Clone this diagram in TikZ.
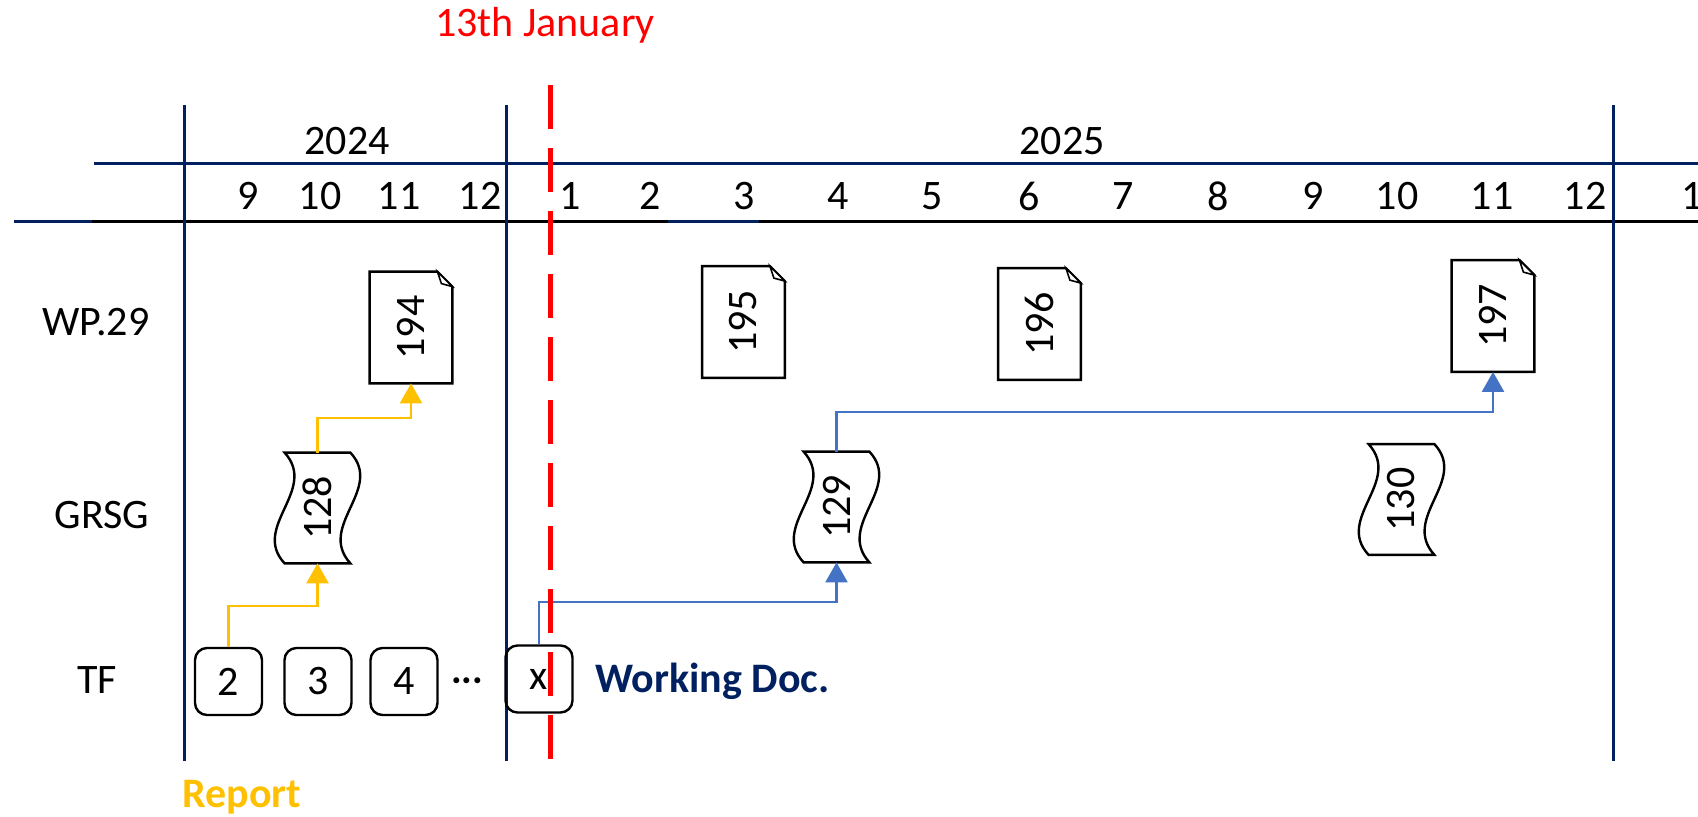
\documentclass[tikz,border=0pt]{standalone}
\usepackage{fontspec}
\setmainfont{Carlito}
\usetikzlibrary{arrows.meta,calc}
\definecolor{navy}{HTML}{002060}
\definecolor{gold}{HTML}{FFC000}
\definecolor{linkblue}{HTML}{4472C4}
\newcommand\wpdocnode[3]{%
  \node[wpdoc] (#1) at (#2) {\rotatebox{90}{#3}};
  \draw[docline] (#1.north west) -- ([xshift=-7.5pt]#1.north east) -- ([yshift=-7.5pt]#1.north east) -- (#1.south east) -- (#1.south west) -- cycle;
  \draw[docline, line width=0.8pt, fill=white] ([xshift=-7.5pt]#1.north east) -- ([xshift=-5.5pt,yshift=-6pt]#1.north east) -- ([yshift=-7.5pt]#1.north east) -- cycle;
}
\newcommand\tapedocnode[3]{%
  \node[tapedoc] (#1) at (#2) {\rotatebox{90}{#3}};
  \draw[docline] (#1.north west) -- (#1.north east)
    .. controls ([xshift=17pt,yshift=-18.3pt]#1.north east) and ([xshift=-17pt,yshift=-36.7pt]#1.north east) .. (#1.south east)
    -- (#1.south west)
    .. controls ([xshift=-17pt,yshift=18.3pt]#1.south west) and ([xshift=17pt,yshift=36.7pt]#1.south west) .. (#1.north west) -- cycle;
}
\begin{document}
\begin{tikzpicture}[x=0.5pt,y=-0.5pt,
  every node/.style={font=\fontsize{21}{25}\selectfont, inner sep=0pt},
  gridline/.style={draw=navy, line width=1.5pt},
  axisline/.style={draw=black, line width=1.5pt},
  redline/.style={draw=red, line width=2.5pt, dash pattern=on 22pt off 9.5pt},
  tfbox/.style={draw, rounded corners=6pt, line width=1.2pt, minimum width=33.5pt, minimum height=33.5pt},
  wpdoc/.style={minimum width=41pt, minimum height=55.5pt},
  tapedoc/.style={minimum width=32.5pt, minimum height=55pt},
  docline/.style={draw=black, line width=1.2pt},
  yelarrow/.style={draw=gold, line width=1.2pt, -{Triangle[width=11pt,length=10pt]}},
  bluarrow/.style={draw=linkblue, line width=1.2pt, -{Triangle[width=11pt,length=10pt]}},
  rowlabel/.style={},
]
\useasboundingbox (0,0) rectangle (1698,816);

% header grid
\draw[gridline] (94,163) -- (1698,163);
\draw[axisline] (92,221) -- (1698,221);
\draw[gridline] (14,221) -- (92,221);
\draw[gridline] (668,221) -- (759,221);
\draw[gridline] (184,105) -- (184,761);
\draw[gridline] (506,105) -- (506,761);
\draw[gridline] (1613,105) -- (1613,761);

% years and months
\node (y2024) at (347,141) {2024};
\node (y2025) at (1062,141) {2025};
\foreach \t/\x in {9/248,10/320,11/399,12/480}
  \node (ma\t) at (\x,196) {\t};
\foreach \t/\x in {1/570,2/650,3/744,4/838,5/932,6/1029,7/1123,8/1218,9/1313,10/1397,11/1492,12/1585}
  \node (mb\t) at (\x,196) {\t};
\node (mc1) at (1692,196) {1};

% row labels
\node[rowlabel] (lwp) at (96,322) {WP.29};
\node[rowlabel] (lgrsg) at (102,515) {GRSG};
\node[rowlabel] (ltf) at (97,680) {TF};

% WP.29 documents
\wpdocnode{d194}{411,327.5}{194}
\wpdocnode{d195}{743.5,322}{195}
\wpdocnode{d196}{1039.5,324}{196}
\wpdocnode{d197}{1493,316}{197}

% GRSG documents
\tapedocnode{g128}{317.5,508}{128}
\tapedocnode{g129}{836.5,507}{129}
\tapedocnode{g130}{1401.5,499.5}{130}

% TF boxes
\node[tfbox] (b2) at (228.5,681.5) {2};
\node[tfbox] (b3) at (318,681.5) {3};
\node[tfbox] (b4) at (404,681.5) {4};
\node (dots) at (467,685) {···};
\node[tfbox] (bx) at (539,679) {x};
\node[anchor=base west, text=navy, font=\fontsize{21}{25}\selectfont\bfseries] (wdoc) at (595,692) {Working Doc.};
\node[anchor=base west, text=gold, font=\fontsize{21}{25}\selectfont\bfseries] (report) at (182,807) {Report};

% connectors
\coordinate (ya) at (0,606);
\coordinate (yb) at (0,418);
\coordinate (yc) at (0,602);
\coordinate (yd) at (0,412);
\draw[yelarrow] (b2.north) -- (b2.north |- ya) -| (g128.south);
\draw[yelarrow] (g128.north) -- (g128.north |- yb) -| (d194.south);
\draw[bluarrow] (bx.north) -- (bx.north |- yc) -| (g129.south);
\draw[bluarrow] (g129.north) -- (g129.north |- yd) -| (d197.south);

% today line
\draw[redline] (550,85) -- (550,761);
\node[anchor=base, text=red] (today) at (545,36) {13th January};
\end{tikzpicture}
\end{document}
